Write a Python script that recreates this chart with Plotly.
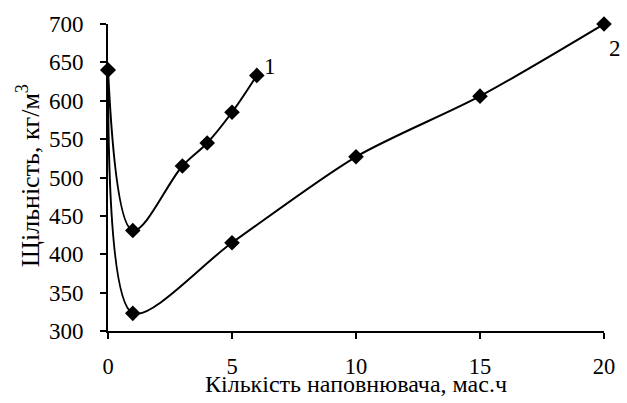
import plotly.graph_objects as go

# Filler content (mass parts) and density (kg/m3) for two compositions
x1 = [0, 1, 3, 4, 5, 6]
y1 = [640, 431, 515, 545, 585, 633]
x2 = [0, 1, 5, 10, 15, 20]
y2 = [640, 323, 415, 527, 606, 700]

x_ticks = [0, 5, 10, 15, 20]
y_ticks = [300, 350, 400, 450, 500, 550, 600, 650, 700]

x_title = "Кількість наповнювача, мас.ч"
y_title = "Щільність, кг/м<sup>3</sup>"

FONT = "Liberation Serif"
X_RANGE = [0, 20]
Y_RANGE = [300, 700]


def to_paper(x, y):
    """Convert data coordinates to paper coordinates."""
    px = (x - X_RANGE[0]) / (X_RANGE[1] - X_RANGE[0])
    py = (y - Y_RANGE[0]) / (Y_RANGE[1] - Y_RANGE[0])
    return px, py


fig = go.Figure()
for xs, ys, sm in ((x1, y1, 1.0), (x2, y2, 0.8)):
    fig.add_trace(go.Scatter(
        x=xs, y=ys, mode="lines+markers",
        line=dict(color="black", width=2, shape="spline", smoothing=sm),
        marker=dict(symbol="diamond", size=12, color="black"),
        cliponaxis=False, showlegend=False,
    ))

# Curve labels
for label, (lx, ly) in (("1", (6.55, 645)), ("2", (20.45, 668))):
    px, py = to_paper(lx, ly)
    fig.add_annotation(xref="paper", yref="paper", x=px, y=py,
                       xanchor="center", yanchor="middle",
                       text=label, showarrow=False,
                       font=dict(family=FONT, size=23, color="black"))

# Axis titles
fig.add_annotation(xref="paper", yref="paper", x=0.5, y=-0.174,
                   xanchor="center", yanchor="middle",
                   text=x_title, showarrow=False,
                   font=dict(family=FONT, size=24, color="black"))
fig.add_annotation(xref="paper", yref="paper", x=-0.1586, y=0.505,
                   xanchor="center", yanchor="middle", textangle=-90,
                   text=y_title, showarrow=False,
                   font=dict(family=FONT, size=26, color="black"))

fig.update_layout(
    width=627, height=403,
    margin=dict(l=108, r=21, t=17, b=72),
    paper_bgcolor="white", plot_bgcolor="white",
    font=dict(family=FONT, size=23, color="black"),
)
fig.update_xaxes(
    range=X_RANGE, tickvals=x_ticks, showgrid=False, zeroline=False,
    showline=True, linecolor="black", linewidth=2,
    ticks="outside", ticklen=6, tickwidth=2, tickcolor="black",
    tickfont=dict(family=FONT, size=22.5, color="black"),
    ticklabelstandoff=8,
)
fig.update_yaxes(
    range=Y_RANGE, tickvals=y_ticks, showgrid=False, zeroline=False,
    showline=True, linecolor="black", linewidth=2,
    ticks="outside", ticklen=6, tickwidth=2, tickcolor="black",
    tickfont=dict(family=FONT, size=23, color="black"),
    ticklabelstandoff=12,
)

fig.write_html("out.html")
